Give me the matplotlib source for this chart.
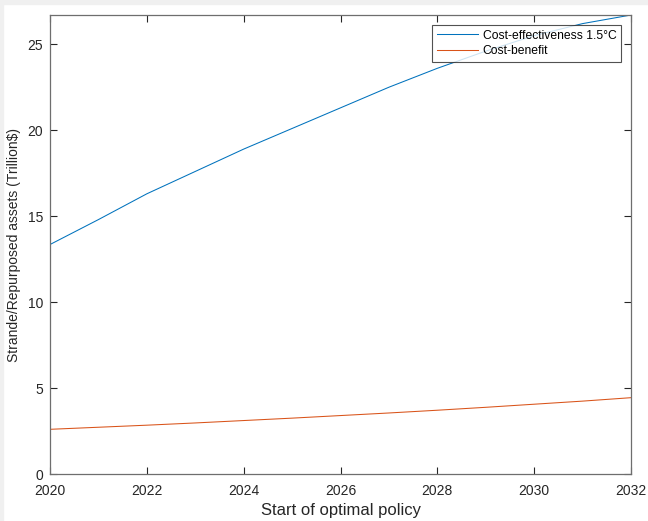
import matplotlib.pyplot as plt
from matplotlib.patches import Rectangle

# Dados
anos = [2020, 2021, 2022, 2023, 2024, 2025, 2026, 2027, 2028, 2029, 2030, 2031, 2032]
custo_efetividade = [13.35, 14.8, 16.3, 17.6, 18.9, 20.1, 21.3, 22.5, 23.6, 24.6, 25.5, 26.2, 26.7]
custo_beneficio = [2.60, 2.72, 2.84, 2.97, 3.11, 3.25, 3.40, 3.55, 3.71, 3.88, 4.06, 4.24, 4.44]
xticks = [2020, 2022, 2024, 2026, 2028, 2030, 2032]
yticks = [0, 5, 10, 15, 20, 25]

plt.rcParams['font.family'] = ['Liberation Sans', 'DejaVu Sans']

fig = plt.figure(figsize=(6.48, 5.21), dpi=100, facecolor='white')
# bordinha cinza do print
fig.patches.append(Rectangle((0, 0.992), 1, 0.008, transform=fig.transFigure, color='#f0f0f0', zorder=0))
fig.patches.append(Rectangle((0, 0), 0.005, 1, transform=fig.transFigure, color='#f0f0f0', zorder=0))

ax = fig.add_axes([0.0772, 0.0902, 0.8966, 0.881])

ax.plot(anos, custo_efetividade, color='#0072BD', lw=0.75, label='Cost-effectiveness 1.5°C')
ax.plot(anos, custo_beneficio, color='#D95319', lw=0.75, label='Cost-benefit')

ax.set_xlim(2020, 2032)
ax.set_ylim(0, 26.7)
ax.set_xticks(xticks)
ax.set_yticks(yticks)
ax.tick_params(direction='in', length=5, width=0.8, color='#262626', labelsize=10,
               labelcolor='#262626', top=True, right=True, pad=4)
ax.tick_params(axis='x', pad=7)
ax.tick_params(axis='y', pad=5)
for s in ax.spines.values():
    s.set_color('#6e6e6e')
    s.set_linewidth(0.9)

ax.set_xlabel('Start of optimal policy', fontsize=12, color='#262626', labelpad=4)
ax.set_ylabel('Strande/Repurposed assets (Trillion$)', fontsize=10, color='#262626', labelpad=5)

leg = ax.legend(loc='upper right', fontsize=8.7, frameon=True, fancybox=False, handlelength=3.4,
                borderaxespad=0.8, borderpad=0.4, labelspacing=0.3, handletextpad=0.4)
leg.get_frame().set_edgecolor('#262626')
leg.get_frame().set_linewidth(0.8)

plt.savefig('out.png', dpi=100, facecolor='white')
